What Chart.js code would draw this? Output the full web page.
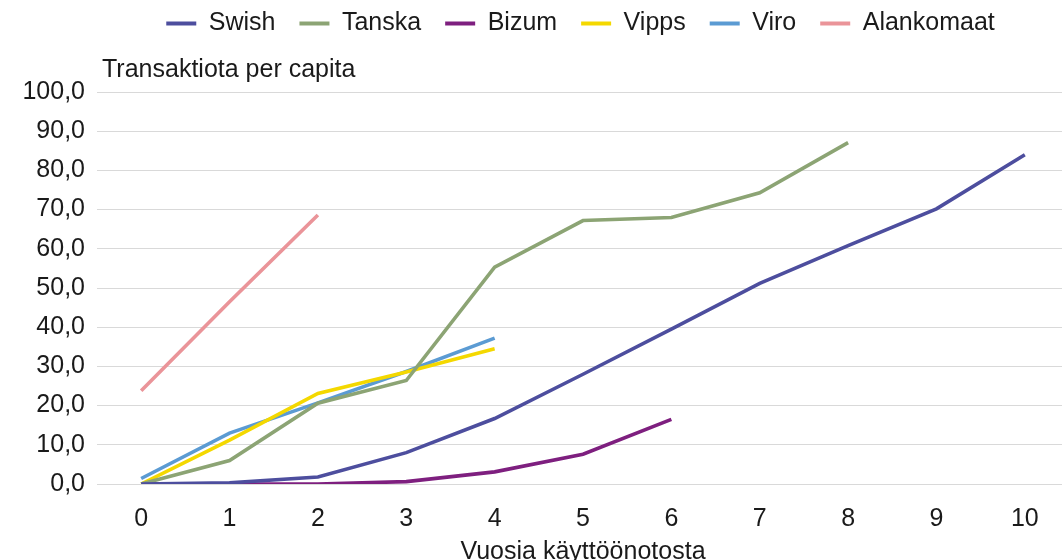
<!DOCTYPE html>
<html>
<head>
<meta charset="utf-8">
<script src="https://cdn.jsdelivr.net/npm/chart.js@4.4.1/dist/chart.umd.min.js"></script>
<style>
  html, body { margin: 0; padding: 0; background: #fff; }
  #wrap { width: 1062px; height: 560px; overflow: hidden; position: relative; }
  #box { width: 1072px; height: 567px; position: absolute; left: 0; top: 0; }
</style>
</head>
<body>
<div id="wrap"><div id="box"><canvas id="chart"></canvas></div></div>
<script>
const years = ["0", "1", "2", "3", "4", "5", "6", "7", "8", "9", "10"];
const swish = [0, 0.3, 1.8, 8, 16.7, 28, 39.5, 51.2, 60.8, 70.2, 84];
const tanska = [0, 6, 20.6, 26.4, 55.3, 67.2, 68, 74.3, 87.1];
const bizum = [0, 0, 0, 0.6, 3.1, 7.6, 16.5];
const vipps = [0, 11.2, 23.1, 28.6, 34.5];
const viro = [1.4, 13, 20.7, 28.7, 37.2];
const alankomaat = [23.8, 46.5, 68.6];

const FONT = "'Liberation Sans', Arial, sans-serif";
const TEXT = "#1a1a1a";

function series(label, data, color) {
  return {
    label,
    data,
    borderColor: color,
    backgroundColor: color,
    borderWidth: 3.6,
    pointRadius: 0,
    tension: 0,
    fill: false,
  };
}

// y axis caption drawn above the plot, left aligned like the original
const yCaption = {
  id: "yCaption",
  afterDraw(chart) {
    const { ctx, chartArea } = chart;
    ctx.save();
    ctx.font = `25px ${FONT}`;
    ctx.fillStyle = TEXT;
    ctx.textAlign = "left";
    ctx.textBaseline = "middle";
    ctx.fillText("Transaktiota per capita", chartArea.left + 5, chartArea.top - 22);
    ctx.restore();
  },
};

// nudge the legend up and to the right, the original sits off-centre near the top
const legendShift = {
  id: "legendShift",
  afterLayout(chart) {
    const lg = chart.legend;
    if (!lg) return;
    lg.left += 46;
    lg.right += 46;
    lg.top -= 46;
    lg.bottom -= 46;
  },
};

new Chart(document.getElementById("chart"), {
  type: "line",
  data: {
    labels: years,
    datasets: [
      series("Swish", swish, "#4d4e9e"),
      series("Tanska", tanska, "#8ca474"),
      series("Bizum", bizum, "#7e1f7f"),
      series("Vipps", vipps, "#f4d800"),
      series("Viro", viro, "#5b9bd3"),
      series("Alankomaat", alankomaat, "#ea9499"),
    ],
  },
  options: {
    responsive: true,
    maintainAspectRatio: false,
    animation: false,
    layout: { padding: { top: 33, right: 3, left: 0, bottom: 0 } },
    plugins: {
      legend: {
        position: "top",
        labels: {
          font: { family: FONT, size: 25 },
          color: TEXT,
          boxWidth: 30,
          boxHeight: 4,
          padding: 24,
          generateLabels(chart) {
            const items = Chart.defaults.plugins.legend.labels.generateLabels(chart);
            items.forEach((it) => { it.lineWidth = 0; });
            return items;
          },
        },
      },
      tooltip: { enabled: false },
    },
    scales: {
      x: {
        offset: true,
        afterFit(scale) { scale.height = 83; },
        grid: { display: false, drawTicks: false },
        border: { display: false },
        ticks: {
          font: { family: FONT, size: 25 },
          color: TEXT,
          padding: 20,
          maxRotation: 0,
        },
        title: {
          display: true,
          text: "Vuosia käyttöönotosta",
          font: { family: FONT, size: 25 },
          color: TEXT,
          padding: 0,
        },
      },
      y: {
        min: 0,
        max: 100,
        afterFit(scale) { scale.width = 97; },
        grid: { color: "#d9d9d9", lineWidth: 1, drawTicks: false },
        border: { display: false },
        ticks: {
          stepSize: 10,
          font: { family: FONT, size: 25 },
          color: TEXT,
          padding: 12,
          callback: (v) => v.toFixed(1).replace(".", ","),
        },
      },
    },
  },
  plugins: [yCaption, legendShift],
});
</script>
</body>
</html>
